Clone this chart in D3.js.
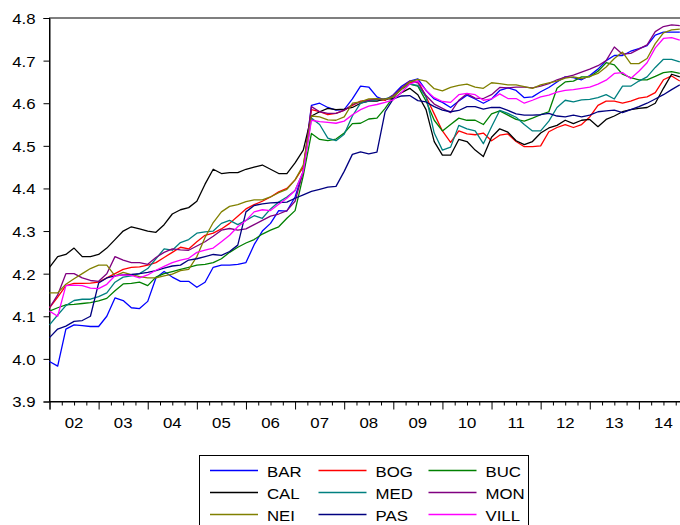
<!DOCTYPE html>
<html>
<head>
<meta charset="utf-8">
<script src="https://cdn.jsdelivr.net/npm/d3@7"></script>
<style>
  html, body { margin: 0; padding: 0; background: #fff; }
  svg { display: block; }
  text { font-family: "Liberation Sans", Arial, sans-serif; font-size: 15px; fill: #000; }
</style>
</head>
<body>
<svg id="chart" width="680" height="525"></svg>
<script>
// Observations every second month, counted in months from 2002M01
const monthIndex = d3.range(0, 156, 2);
const yearLabels = ["02","03","04","05","06","07","08","09","10","11","12","13","14"];
const yTicks = [3.9, 4.0, 4.1, 4.2, 4.3, 4.4, 4.5, 4.6, 4.7, 4.8];

const seriesNames  = ["BAR","BOG","BUC","CAL","MED","MON","NEI","PAS","VILL"];
const seriesColors = ["#0000FF","#FF0000","#008000","#000000","#008080","#800080","#808000","#000080","#FF00FF"];

// six values per year, 2002 .. 2014
const BAR = [
  3.994,3.983,4.07,4.08,4.078,4.076,
  4.076,4.10,4.143,4.137,4.12,4.118,
  4.135,4.19,4.205,4.192,4.182,4.182,
  4.168,4.18,4.215,4.22,4.22,4.222,
  4.226,4.268,4.30,4.318,4.348,4.347,
  4.38,4.44,4.595,4.60,4.59,4.584,
  4.585,4.61,4.64,4.638,4.615,4.607,
  4.62,4.64,4.652,4.657,4.63,4.61,
  4.602,4.59,4.605,4.619,4.61,4.60,
  4.61,4.63,4.636,4.63,4.613,4.615,
  4.627,4.637,4.65,4.662,4.66,4.655,
  4.665,4.68,4.70,4.712,4.712,4.722,
  4.728,4.735,4.76,4.767,4.767,4.767];
const BOG = [
  4.12,4.145,4.172,4.177,4.177,4.178,
  4.18,4.19,4.20,4.21,4.215,4.216,
  4.22,4.226,4.238,4.25,4.262,4.258,
  4.275,4.29,4.295,4.305,4.318,4.335,
  4.352,4.362,4.37,4.38,4.392,4.40,
  4.42,4.45,4.585,4.58,4.573,4.576,
  4.584,4.595,4.605,4.607,4.609,4.607,
  4.618,4.635,4.648,4.652,4.615,4.575,
  4.535,4.508,4.535,4.528,4.526,4.53,
  4.512,4.525,4.528,4.51,4.498,4.498,
  4.50,4.533,4.543,4.55,4.543,4.55,
  4.568,4.595,4.605,4.605,4.60,4.605,
  4.612,4.615,4.625,4.655,4.664,4.652];
const BUC = [
  4.112,4.12,4.127,4.128,4.13,4.132,
  4.136,4.142,4.16,4.176,4.177,4.18,
  4.172,4.192,4.20,4.205,4.21,4.215,
  4.22,4.222,4.226,4.235,4.25,4.262,
  4.272,4.28,4.293,4.302,4.31,4.33,
  4.348,4.43,4.529,4.515,4.512,4.516,
  4.53,4.552,4.553,4.563,4.565,4.588,
  4.615,4.633,4.645,4.64,4.605,4.56,
  4.535,4.55,4.565,4.56,4.56,4.55,
  4.575,4.582,4.572,4.562,4.558,4.565,
  4.573,4.58,4.635,4.65,4.652,4.662,
  4.662,4.675,4.695,4.69,4.668,4.66,
  4.655,4.655,4.663,4.672,4.674,4.67];
const CAL = [
  4.215,4.24,4.245,4.26,4.24,4.24,
  4.245,4.26,4.28,4.30,4.31,4.305,
  4.30,4.297,4.315,4.34,4.35,4.355,
  4.37,4.41,4.445,4.435,4.437,4.437,
  4.445,4.45,4.455,4.445,4.435,4.435,
  4.46,4.49,4.57,4.58,4.588,4.585,
  4.586,4.59,4.60,4.605,4.605,4.61,
  4.61,4.625,4.635,4.62,4.585,4.51,
  4.478,4.478,4.515,4.51,4.49,4.475,
  4.52,4.54,4.532,4.512,4.503,4.51,
  4.53,4.542,4.548,4.56,4.552,4.56,
  4.562,4.545,4.562,4.57,4.58,4.585,
  4.588,4.59,4.60,4.635,4.668,4.662];
const MED = [
  4.08,4.103,4.125,4.137,4.14,4.14,
  4.146,4.155,4.18,4.192,4.195,4.20,
  4.212,4.235,4.258,4.255,4.273,4.28,
  4.295,4.298,4.30,4.318,4.325,4.315,
  4.325,4.336,4.33,4.352,4.368,4.38,
  4.395,4.44,4.565,4.55,4.518,4.512,
  4.527,4.57,4.60,4.605,4.608,4.61,
  4.616,4.635,4.645,4.642,4.615,4.53,
  4.49,4.497,4.548,4.54,4.535,4.505,
  4.545,4.583,4.576,4.567,4.55,4.535,
  4.535,4.558,4.59,4.607,4.603,4.608,
  4.609,4.613,4.62,4.61,4.64,4.64,
  4.652,4.662,4.684,4.703,4.703,4.697];
const MON = [
  4.12,4.15,4.20,4.20,4.19,4.184,
  4.182,4.20,4.24,4.232,4.226,4.226,
  4.222,4.238,4.25,4.258,4.256,4.255,
  4.265,4.275,4.288,4.302,4.306,4.302,
  4.305,4.315,4.325,4.335,4.34,4.348,
  4.37,4.44,4.592,4.58,4.576,4.576,
  4.583,4.597,4.603,4.607,4.61,4.609,
  4.615,4.636,4.652,4.648,4.618,4.598,
  4.588,4.578,4.607,4.622,4.612,4.611,
  4.62,4.637,4.636,4.638,4.638,4.636,
  4.64,4.646,4.655,4.661,4.666,4.673,
  4.68,4.688,4.70,4.732,4.715,4.717,
  4.727,4.737,4.768,4.78,4.784,4.782];
const NEI = [
  4.155,4.155,4.175,4.188,4.20,4.212,
  4.22,4.22,4.195,4.203,4.198,4.193,
  4.19,4.19,4.195,4.199,4.207,4.21,
  4.24,4.285,4.32,4.345,4.358,4.362,
  4.369,4.373,4.373,4.38,4.39,4.398,
  4.42,4.455,4.57,4.568,4.561,4.56,
  4.568,4.60,4.603,4.61,4.611,4.609,
  4.615,4.633,4.65,4.656,4.652,4.634,
  4.629,4.637,4.642,4.645,4.638,4.635,
  4.648,4.646,4.643,4.643,4.639,4.635,
  4.643,4.648,4.652,4.659,4.662,4.658,
  4.663,4.67,4.685,4.705,4.72,4.693,
  4.693,4.705,4.74,4.765,4.772,4.774];
const PAS = [
  4.05,4.07,4.077,4.088,4.09,4.10,
  4.178,4.19,4.195,4.197,4.198,4.20,
  4.203,4.207,4.213,4.218,4.22,4.232,
  4.235,4.24,4.245,4.243,4.252,4.267,
  4.345,4.36,4.364,4.366,4.367,4.368,
  4.377,4.385,4.393,4.398,4.403,4.405,
  4.44,4.48,4.486,4.481,4.485,4.58,
  4.61,4.617,4.618,4.606,4.603,4.592,
  4.584,4.58,4.583,4.592,4.592,4.586,
  4.59,4.59,4.583,4.575,4.572,4.572,
  4.573,4.576,4.57,4.568,4.572,4.568,
  4.572,4.58,4.582,4.584,4.578,4.585,
  4.592,4.60,4.61,4.62,4.632,4.643];
const VILL = [
  4.112,4.10,4.172,4.173,4.172,4.166,
  4.165,4.175,4.195,4.197,4.196,4.19,
  4.197,4.208,4.217,4.226,4.232,4.236,
  4.25,4.255,4.26,4.275,4.29,4.31,
  4.325,4.345,4.35,4.348,4.363,4.377,
  4.395,4.44,4.56,4.557,4.555,4.553,
  4.558,4.573,4.585,4.593,4.597,4.602,
  4.608,4.625,4.645,4.652,4.63,4.613,
  4.604,4.602,4.62,4.623,4.62,4.607,
  4.61,4.622,4.611,4.611,4.60,4.607,
  4.615,4.619,4.626,4.63,4.632,4.635,
  4.638,4.645,4.654,4.67,4.672,4.658,
  4.675,4.695,4.73,4.752,4.754,4.748];

const seriesValues = [BAR, BOG, BUC, CAL, MED, MON, NEI, PAS, VILL];

const svg = d3.select("#chart");
const plotLeft = 49.5, plotTop = 18, plotBottom = 401.5, plotRight = 688;

const x = d3.scaleLinear().domain([0, 156]).range([plotLeft, plotRight]);
const y = d3.scaleLinear().domain([3.9, 4.8]).range([plotBottom, plotTop]);

const stretch = 1.12;  // slightly wide lettering

// frame
svg.append("rect")
  .attr("x", plotLeft).attr("y", plotTop)
  .attr("width", plotRight - plotLeft).attr("height", plotBottom - plotTop)
  .attr("fill", "none").attr("stroke", "#000").attr("stroke-width", 1);

// y axis
const yAxis = svg.append("g")
  .attr("transform", `translate(${plotLeft},0)`)
  .call(d3.axisLeft(y).tickValues(yTicks).tickFormat(d3.format(".1f")).tickSize(6).tickPadding(0));
yAxis.select(".domain").attr("stroke", "#000");
yAxis.selectAll(".tick line").attr("stroke", "#000");
yAxis.selectAll(".tick text")
  .attr("x", null).attr("dy", "0.36em")
  .attr("transform", `translate(-14,0) scale(${stretch},1)`)
  .style("font-size", "15px").style("font-family", "'Liberation Sans', Arial, sans-serif");

// x axis: major ticks at each year, minor ticks each quarter
const majorTicks = d3.range(0, 157, 12);
const minorTicks = d3.range(0, 157, 3).filter(d => d % 12 !== 0);
const xAxis = svg.append("g").attr("transform", `translate(0,${plotBottom})`);
xAxis.call(d3.axisBottom(x).tickValues(majorTicks).tickSize(8).tickFormat(""));
xAxis.select(".domain").attr("stroke", "#000");
xAxis.selectAll(".tick line").attr("stroke", "#000");
const xMinor = svg.append("g").attr("transform", `translate(0,${plotBottom})`);
xMinor.call(d3.axisBottom(x).tickValues(minorTicks).tickSize(4).tickFormat(""));
xMinor.select(".domain").remove();
xMinor.selectAll(".tick line").attr("stroke", "#000");

// year labels centred in each year
svg.append("g").selectAll("text")
  .data(yearLabels)
  .join("text")
  .attr("text-anchor", "middle")
  .attr("transform", (d, i) => `translate(${x(i * 12 + 6)},${plotBottom + 26}) scale(${stretch},1)`)
  .text(d => d);

// series lines
const line = d3.line()
  .x((d, i) => x(monthIndex[i]))
  .y(d => y(d));

const plot = svg.append("g");
plot.selectAll("path")
  .data(seriesValues)
  .join("path")
  .attr("fill", "none")
  .attr("stroke", (d, i) => seriesColors[i])
  .attr("stroke-width", 1.3)
  .attr("stroke-linejoin", "round")
  .attr("d", line);

// legend
const legend = svg.append("g");
legend.append("rect")
  .attr("x", 199.5).attr("y", 455.5)
  .attr("width", 329).attr("height", 90)
  .attr("fill", "#fff").attr("stroke", "#000").attr("stroke-width", 1);

const colX = [210, 318.5, 428.5];
const rowY = [470.5, 492.5, 514.5];
const entries = legend.selectAll("g.entry")
  .data(seriesNames)
  .join("g")
  .attr("class", "entry")
  .attr("transform", (d, i) => `translate(${colX[i % 3]},${rowY[Math.floor(i / 3)]})`);
entries.append("line")
  .attr("x1", 0).attr("x2", 48).attr("y1", 0).attr("y2", 0)
  .attr("stroke", (d, i) => seriesColors[i]).attr("stroke-width", 1.3);
entries.append("text")
  .attr("transform", `translate(57,6.5) scale(${stretch},1)`)
  .text(d => d);
</script>
</body>
</html>
